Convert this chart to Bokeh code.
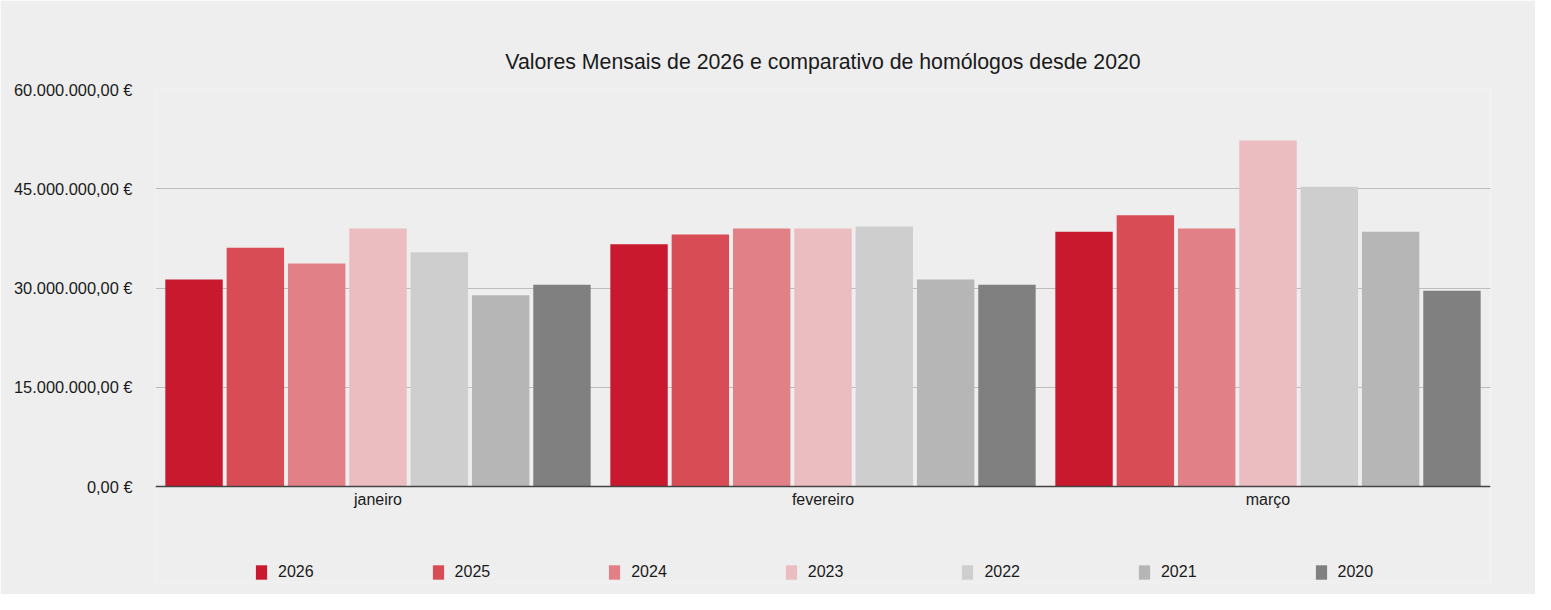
from bokeh.plotting import figure
from bokeh.models import ColumnDataSource, FixedTicker, Range1d, Legend, LegendItem
from bokeh.transform import dodge
from bokeh.embed import file_html
from bokeh.resources import INLINE

months = ["janeiro", "fevereiro", "março"]
years = ["2026", "2025", "2024", "2023", "2022", "2021", "2020"]
v2026 = [31.3e6, 36.6e6, 38.5e6]
v2025 = [36.1e6, 38.1e6, 41.0e6]
v2024 = [33.7e6, 39.0e6, 39.0e6]
v2023 = [39.0e6, 39.0e6, 52.3e6]
v2022 = [35.4e6, 39.3e6, 45.3e6]
v2021 = [28.9e6, 31.3e6, 38.5e6]
v2020 = [30.5e6, 30.5e6, 29.6e6]
series = [v2026, v2025, v2024, v2023, v2022, v2021, v2020]
colors = ["#c8192f", "#d84c55", "#e18086", "#ebbcc0", "#cecece", "#b6b6b6", "#808080"]
y_ticks = [0, 15e6, 30e6, 45e6, 60e6]
y_tick_labels = ["0,00 €", "15.000.000,00 €", "30.000.000,00 €", "45.000.000,00 €", "60.000.000,00 €"]
title_text = "Valores Mensais de 2026 e comparativo de homólogos desde 2020"

FONT = "Liberation Sans"
BG = "#eeeeee"

W, H = 1535, 594
TOP, BOTTOM_BORDER = 89, 12
ZERO_PX = 486          # screen y of the value 0
Y_MAX = 60e6
frame_h = H - TOP - BOTTOM_BORDER
span_px = ZERO_PX - TOP
y_start = -Y_MAX * (frame_h - span_px) / span_px

data = {"month": months}
for y, s in zip(years, series):
    data["y" + y] = s
src = ColumnDataSource(data)

p = figure(x_range=months, y_range=Range1d(y_start, Y_MAX), width=W, height=H,
           output_backend="svg", toolbar_location=None,
           min_border_left=155, min_border_right=45, min_border_top=TOP,
           min_border_bottom=BOTTOM_BORDER,
           background_fill_color=BG, border_fill_color=BG, outline_line_color=None)

p.title.text = title_text
p.title.align = "center"
p.title.text_font = FONT
p.title.text_font_size = "21.3px"
p.title.text_font_style = "normal"
p.title.text_color = "#1a1a1a"
p.title.standoff = 31

slot = 0.1378
items = []
for i, (y, c) in enumerate(zip(years, colors)):
    r = p.vbar(x=dodge("month", (i - 3) * slot, range=p.x_range), top="y" + y, bottom=0,
               width=0.129, source=src, fill_color=c, line_color=None)
    items.append(LegendItem(label=y, renderers=[r]))

legend = Legend(items=items, orientation="horizontal", location=(99, 1),
                glyph_width=14, glyph_height=18, label_standoff=10, spacing=117,
                padding=0, margin=0, background_fill_alpha=0, border_line_color=None,
                label_text_font=FONT, label_text_font_size="16px", label_text_color="#1a1a1a",
                label_height=18)
p.add_layout(legend, "center")

p.yaxis.ticker = FixedTicker(ticks=y_ticks)
p.yaxis.major_label_overrides = {t: l for t, l in zip(y_ticks, y_tick_labels)}
p.yaxis.axis_line_color = None
p.yaxis.major_tick_line_color = None
p.yaxis.minor_tick_line_color = None
p.yaxis.major_label_standoff = 17
p.yaxis.major_label_text_font = FONT
p.yaxis.major_label_text_font_size = "16.4px"
p.yaxis.major_label_text_color = "#1a1a1a"

p.xaxis.fixed_location = 0
p.xaxis.axis_line_color = "#444444"
p.xaxis.axis_line_width = 1.5
p.xaxis.major_tick_line_color = None
p.xaxis.minor_tick_line_color = None
p.xaxis.major_label_standoff = -2
p.xaxis.major_label_text_font = FONT
p.xaxis.major_label_text_font_size = "16px"
p.xaxis.major_label_text_color = "#1a1a1a"

p.xgrid.grid_line_color = None
p.ygrid.grid_line_color = "#bdbdbd"
p.ygrid.grid_line_width = 1
p.x_range.range_padding = 0

open("out.html", "w").write(file_html(p, INLINE))
